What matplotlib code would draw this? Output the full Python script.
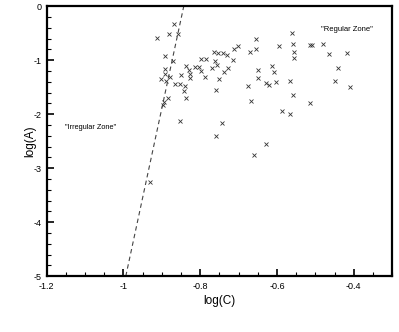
import numpy as np
import matplotlib
matplotlib.use("Agg")
import matplotlib.pyplot as plt
from matplotlib.ticker import MultipleLocator, FormatStrFormatter

plt.rcParams['font.family'] = ['Liberation Sans', 'DejaVu Sans']
plt.rcParams['axes.unicode_minus'] = False

# scatter data: log(C), log(A)
log_c = [-0.912, -0.882, -0.868, -0.859, -0.891, -0.871, -0.892, -0.892, -0.901, -0.889,
         -0.880, -0.866, -0.853, -0.840, -0.843, -0.883, -0.836, -0.895, -0.897, -0.853,
         -0.930, -0.838, -0.829, -0.828, -0.828, -0.849, -0.814, -0.803, -0.799, -0.788,
         -0.799, -0.784, -0.763, -0.754, -0.741, -0.730, -0.762, -0.757, -0.769, -0.728,
         -0.738, -0.716, -0.712, -0.701, -0.751, -0.760, -0.744, -0.758, -0.654, -0.654,
         -0.670, -0.650, -0.649, -0.675, -0.667, -0.630, -0.620, -0.602, -0.612, -0.609,
         -0.595, -0.587, -0.565, -0.628, -0.661, -0.562, -0.559, -0.557, -0.555, -0.566,
         -0.558, -0.515, -0.514, -0.510, -0.480, -0.465, -0.418, -0.441, -0.448, -0.411]
log_a = [-0.581, -0.507, -0.333, -0.507, -0.920, -1.019, -1.170, -1.254, -1.350, -1.378,
         -1.313, -1.439, -1.448, -1.467, -1.563, -1.693, -1.694, -1.781, -1.833, -2.119,
         -3.248, -1.106, -1.185, -1.257, -1.322, -1.272, -1.119, -1.130, -1.198, -1.306,
         -0.967, -0.981, -0.846, -0.865, -0.870, -0.893, -1.017, -1.078, -1.148, -1.139,
         -1.217, -0.989, -0.787, -0.739, -1.341, -1.543, -2.156, -2.411, -0.602, -0.785,
         -0.852, -1.183, -1.337, -1.476, -1.754, -1.417, -1.463, -1.396, -1.109, -1.222,
         -0.731, -1.939, -1.991, -2.550, -2.754, -0.491, -0.689, -0.850, -0.957, -1.383,
         -1.639, -1.796, -0.711, -0.726, -0.704, -0.880, -0.859, -1.139, -1.387, -1.504]

# boundary line between the zones
line_c = [-0.994, -0.843]
line_a = [-5.0, 0.0]

fig = plt.figure(figsize=(3.99, 3.32), dpi=100)
ax = fig.add_axes([0.117, 0.168, 0.866, 0.813])

ax.plot(log_c, log_a, linestyle='none', marker='x', markersize=3.2,
        markeredgewidth=0.6, color='#333333')
ax.plot(line_c, line_a, linestyle=(0, (4, 3)), linewidth=0.8, color='#444444')

ax.text(-1.152, -2.25, '"Irregular Zone"', fontsize=5.3, va='center', ha='left')
ax.text(-0.485, -0.43, '"Regular Zone"', fontsize=5.5, va='center', ha='left')

ax.set_xlim(-1.2, -0.3)
ax.set_ylim(-5, 0)
ax.xaxis.set_major_locator(MultipleLocator(0.2))
ax.xaxis.set_minor_locator(MultipleLocator(0.05))
ax.yaxis.set_major_locator(MultipleLocator(1))
ax.yaxis.set_minor_locator(MultipleLocator(0.2))
ax.xaxis.set_major_formatter(FormatStrFormatter('%g'))
ax.yaxis.set_major_formatter(FormatStrFormatter('%g'))

ax.tick_params(which='both', direction='in', top=False, right=False, labelsize=6.5)
ax.tick_params(which='major', length=5, width=1.2)
ax.tick_params(which='minor', length=3, width=0.8)
ax.tick_params(axis='x', pad=4)
ax.tick_params(axis='y', pad=4)
for s in ax.spines.values():
    s.set_linewidth(1.6)

ax.set_xlabel('log(C)', fontsize=8.5, labelpad=3)
ax.set_ylabel('log(A)', fontsize=8.5, labelpad=-2)

fig.savefig('out.png', dpi=100)
